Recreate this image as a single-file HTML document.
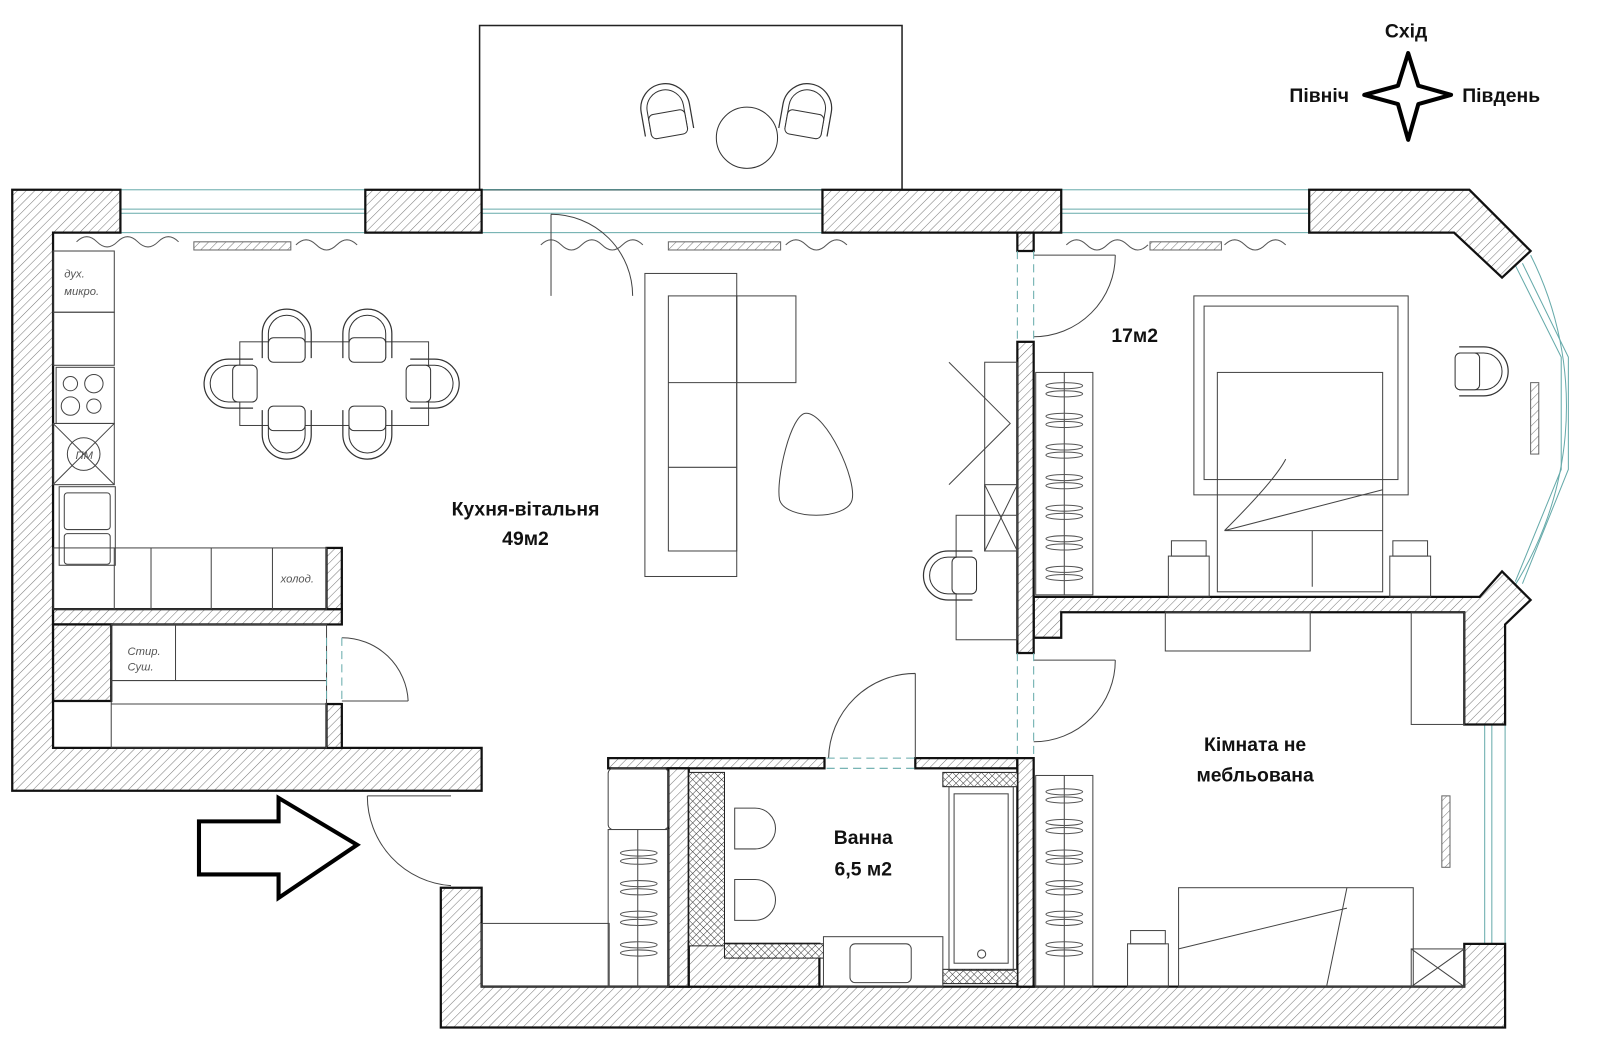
<!DOCTYPE html>
<html><head><meta charset="utf-8"><style>
html,body{margin:0;padding:0;background:#fff;}
svg{display:block}
text{font-family:"Liberation Sans","DejaVu Sans",sans-serif;}
</style></head><body>
<svg width="1600" height="1053" viewBox="0 0 1568 1032" preserveAspectRatio="none" xmlns="http://www.w3.org/2000/svg">
<defs>
<pattern id="h" width="6" height="6" patternUnits="userSpaceOnUse" patternTransform="rotate(45)">
<rect width="6" height="6" fill="#fff"/><line x1="0" y1="0" x2="0" y2="6" stroke="#777" stroke-width="1"/></pattern>
<pattern id="x" width="5" height="5" patternUnits="userSpaceOnUse" patternTransform="rotate(45)">
<rect width="5" height="5" fill="#fff"/><path d="M0 0V5M0 0H5" stroke="#333" stroke-width="1"/></pattern>
<g id="ch"><path d="M0,48 V24 A24,24 0 0 1 48,24 V48" fill="none" stroke="#333" stroke-width="1.2"/><path d="M6,48 V24 A18,18 0 0 1 42,24 V48" fill="none" stroke="#333"/><rect x="6" y="28" width="36" height="24" rx="5" fill="#fff" stroke="#333"/></g>
<g id="hg" stroke="#555" fill="none"><ellipse cx="18" cy="6" rx="18" ry="3"/><ellipse cx="18" cy="14" rx="18" ry="3"/></g>
</defs>
<rect width="1568" height="1032" fill="#fff"/>
<rect x="470" y="25" width="414" height="161" fill="none" stroke="#222" stroke-width="1.5"/>
<use href="#ch" transform="translate(628,82) rotate(-10 24 24)"/>
<use href="#ch" transform="translate(767,82) rotate(10 24 24)"/>
<circle cx="732" cy="135" r="30" fill="none" stroke="#333"/>
<g stroke="#6aa" fill="none">
<rect x="118" y="186" width="240" height="42"/><line x1="118" y1="205" x2="358" y2="205"/><line x1="118" y1="209" x2="358" y2="209"/>
<rect x="472" y="186" width="334" height="42"/><line x1="472" y1="205" x2="806" y2="205"/><line x1="472" y1="209" x2="806" y2="209"/>
<rect x="1040" y="186" width="243" height="42"/><line x1="1040" y1="205" x2="1283" y2="205"/><line x1="1040" y1="209" x2="1283" y2="209"/>
<path d="M1500,250 A330,330 0 0 1 1470,595"/><path d="M1485,260 L1530,350 L1530,460 L1485,570"/><path d="M1492,258 L1537,350 L1537,460 L1492,572"/>
<line x1="1455" y1="710" x2="1455" y2="925"/><line x1="1462" y1="710" x2="1462" y2="925"/><line x1="1475" y1="710" x2="1475" y2="925"/>
</g>
<g stroke="#666" fill="url(#h)">
<rect x="190" y="237" width="95" height="8"/><rect x="655" y="237" width="110" height="8"/><rect x="1127" y="237" width="70" height="8"/><rect x="1500" y="375" width="8" height="70"/><rect x="1413" y="780" width="8" height="70"/>
</g>
<path d="M75,237 q10,-10 20,0 t20,0 t20,0 t20,0 t20,0 M290,240 q10,-10 20,0 t20,0 t20,0 M530,240 q10,-10 20,0 t20,0 t20,0 t20,0 t20,0 M770,240 q10,-10 20,0 t20,0 t20,0 M1045,240 q10,-10 20,0 t20,0 t20,0 t20,0 M1200,240 q10,-10 20,0 t20,0 t20,0" fill="none" stroke="#555"/>
<g fill="url(#h)" stroke="#111" stroke-width="2.2">
<path d="M12,186 H118 V228 H52 V733 H472 V775 H12 Z"/>
<rect x="358" y="186" width="114" height="42"/>
<rect x="806" y="186" width="234" height="42"/>
<path d="M1283,186 H1440 L1500,246 L1472,272 L1425,228 H1283 Z"/>
<path d="M1013,585 H1450 L1472,560 L1500,588 L1475,612 V710 H1435 V600 H1040 V625 H1013 Z"/>
<path d="M1435,925 H1475 V1007 H432 V870 H472 V967 H1435 Z"/>
<rect x="997" y="335" width="16" height="305"/>
<rect x="997" y="228" width="16" height="18"/>
<rect x="52" y="597" width="283" height="15"/>
<rect x="320" y="537" width="15" height="60"/>
<rect x="320" y="690" width="15" height="43"/>
<rect x="596" y="743" width="212" height="10"/>
<rect x="897" y="743" width="100" height="10"/>
<rect x="655" y="753" width="20" height="214"/>
<rect x="997" y="743" width="16" height="224"/>
<rect x="52" y="612" width="57" height="75"/>
<rect x="675" y="925" width="128" height="42" fill="url(#h)"/>
</g>
<g fill="url(#x)" stroke="#222">
<rect x="675" y="757" width="35" height="170"/><rect x="710" y="925" width="97" height="14"/>
<rect x="924" y="757" width="73" height="14"/><rect x="924" y="950" width="73" height="14"/>
</g>
<g fill="none" stroke="#444">
<rect x="52" y="246" width="60" height="60"/><rect x="52" y="306" width="60" height="52"/><rect x="55" y="360" width="57" height="55"/>
<rect x="52" y="415" width="60" height="60"/><path d="M52,415 L112,475 M112,415 L52,475"/><circle cx="82" cy="445" r="16"/>
<rect x="58" y="477" width="55" height="77"/><rect x="63" y="483" width="45" height="36" rx="3"/><rect x="63" y="523" width="45" height="30" rx="3"/>
<rect x="52" y="537" width="268" height="60"/><path d="M112,537V597M148,537V597M207,537V597M267,537V597"/>
<rect x="109" y="612" width="211" height="121"/><path d="M109,667H320M172,612V667M109,690H320"/>
<circle cx="69" cy="376" r="7"/><circle cx="92" cy="376" r="9"/><circle cx="69" cy="398" r="9"/><circle cx="92" cy="398" r="7"/>
</g>
<g font-style="italic" font-size="11" fill="#555">
<text x="63" y="272">дух.</text><text x="63" y="289">микро.</text><text x="275" y="571">холод.</text><text x="125" y="642">Стир.</text><text x="125" y="657">Суш.</text><text x="74" y="450">ПМ</text>
</g>
<rect x="235" y="335" width="185" height="82" fill="none" stroke="#444"/>
<use href="#ch" transform="translate(257,303)"/><use href="#ch" transform="translate(336,303)"/>
<use href="#ch" transform="translate(257,402) rotate(180 24 24)"/><use href="#ch" transform="translate(336,402) rotate(180 24 24)"/>
<use href="#ch" transform="translate(200,352) rotate(-90 24 24)"/><use href="#ch" transform="translate(402,352) rotate(90 24 24)"/>
<g fill="none" stroke="#444">
<rect x="632" y="268" width="90" height="297"/><rect x="655" y="290" width="67" height="250"/><path d="M655,375H722M655,458H722"/><rect x="722" y="290" width="58" height="85"/>
<path d="M790,405 C810,405 840,470 835,490 C830,510 770,510 764,490 C760,470 775,405 790,405Z"/>
<path d="M930,355 L990,415 L930,475"/><rect x="965" y="355" width="32" height="185"/><rect x="965" y="475" width="32" height="65"/><path d="M965,475L997,540M997,475L965,540"/>
<rect x="937" y="505" width="60" height="122"/>
</g>
<use href="#ch" transform="translate(905,540) rotate(-90 24 24)"/>
<g fill="none" stroke="#444">
<path d="M540,210 V290 M540,210 A80,80 0 0 1 620,290"/>
<path d="M1013,250 H1093 M1093,250 A80,80 0 0 1 1013,330"/>
<path d="M1013,647 H1093 M1093,647 A80,80 0 0 1 1013,727"/>
<path d="M335,687 H400 M335,625 A65,65 0 0 1 400,687"/>
<path d="M897,660 V743 M897,660 A85,85 0 0 0 812,743"/>
<path d="M360,780 H442 M360,780 A88,88 0 0 0 442,868"/>
</g>
<g stroke="#6aa" stroke-dasharray="8,5" fill="none"><path d="M997,246V335M1013,246V335M997,640V743M1013,640V743M320,625V690M335,625V690M810,743H897M810,753H897"/></g>
<g fill="none" stroke="#444">
<rect x="1170" y="290" width="210" height="195"/><rect x="1180" y="300" width="190" height="170"/>
<rect x="1193" y="365" width="162" height="215"/><path d="M1200,520 L1355,480 M1200,520 H1355 M1286,520 V575 M1200,520 Q1250,470 1260,450"/>
<rect x="1145" y="545" width="40" height="40"/><rect x="1148" y="530" width="34" height="15"/>
<rect x="1362" y="545" width="40" height="40"/><rect x="1365" y="530" width="34" height="15"/>
<rect x="1015" y="365" width="56" height="218"/><line x1="1043" y1="365" x2="1043" y2="583"/>
<rect x="1142" y="600" width="142" height="38"/>
<rect x="1015" y="760" width="56" height="207"/><line x1="1043" y1="760" x2="1043" y2="967"/>
<rect x="1155" y="870" width="230" height="97"/><path d="M1320,870 L1300,967 M1155,930 L1320,890"/>
<rect x="1105" y="925" width="40" height="42"/><rect x="1108" y="912" width="34" height="13"/>
<rect x="1383" y="930" width="52" height="37"/><path d="M1383,930L1435,967M1435,930L1383,967"/>
<rect x="1383" y="600" width="52" height="110"/>
<rect x="472" y="905" width="125" height="62"/><rect x="596" y="753" width="59" height="60" rx="5"/><rect x="596" y="813" width="59" height="154"/><line x1="625" y1="813" x2="625" y2="967"/>
<rect x="930" y="771" width="63" height="180"/><rect x="935" y="778" width="53" height="166"/><circle cx="962" cy="935" r="4"/>
<rect x="807" y="918" width="117" height="49"/><rect x="833" y="925" width="60" height="38" rx="5"/>
<path d="M720,792 h20 a20,20 0 0 1 0,40 h-20Z M720,862 h20 a20,20 0 0 1 0,40 h-20Z"/>
</g>
<g>
<use href="#hg" transform="translate(1025,372)"/><use href="#hg" transform="translate(1025,402)"/><use href="#hg" transform="translate(1025,432)"/><use href="#hg" transform="translate(1025,462)"/><use href="#hg" transform="translate(1025,492)"/><use href="#hg" transform="translate(1025,522)"/><use href="#hg" transform="translate(1025,552)"/>
<use href="#hg" transform="translate(1025,770)"/><use href="#hg" transform="translate(1025,800)"/><use href="#hg" transform="translate(1025,830)"/><use href="#hg" transform="translate(1025,860)"/><use href="#hg" transform="translate(1025,890)"/><use href="#hg" transform="translate(1025,920)"/>
<use href="#hg" transform="translate(608,830)"/><use href="#hg" transform="translate(608,860)"/><use href="#hg" transform="translate(608,890)"/><use href="#hg" transform="translate(608,920)"/>
</g>
<use href="#ch" transform="translate(1430,340) rotate(90 24 24)"/>
<path d="M195,805 H273 V782 L350,828 L273,880 V857 H195 Z" fill="#fff" stroke="#000" stroke-width="4" stroke-linejoin="miter"/>
<path d="M1380,52 L1390,84 L1422,93 L1390,102 L1380,137 L1370,102 L1337,93 L1370,84 Z" fill="#fff" stroke="#000" stroke-width="4" stroke-linejoin="round"/>
<g font-weight="bold" fill="#111" font-size="19">
<text x="1378" y="37" text-anchor="middle">Схід</text>
<text x="1322" y="100" text-anchor="end">Північ</text>
<text x="1433" y="100">Південь</text>
<text x="515" y="505" text-anchor="middle">Кухня-вітальня</text>
<text x="515" y="534" text-anchor="middle">49м2</text>
<text x="1112" y="335" text-anchor="middle">17м2</text>
<text x="1230" y="736" text-anchor="middle">Кімната не</text>
<text x="1230" y="766" text-anchor="middle">мебльована</text>
<text x="846" y="827" text-anchor="middle">Ванна</text>
<text x="846" y="858" text-anchor="middle">6,5 м2</text>
</g>
</svg>
</body></html>
